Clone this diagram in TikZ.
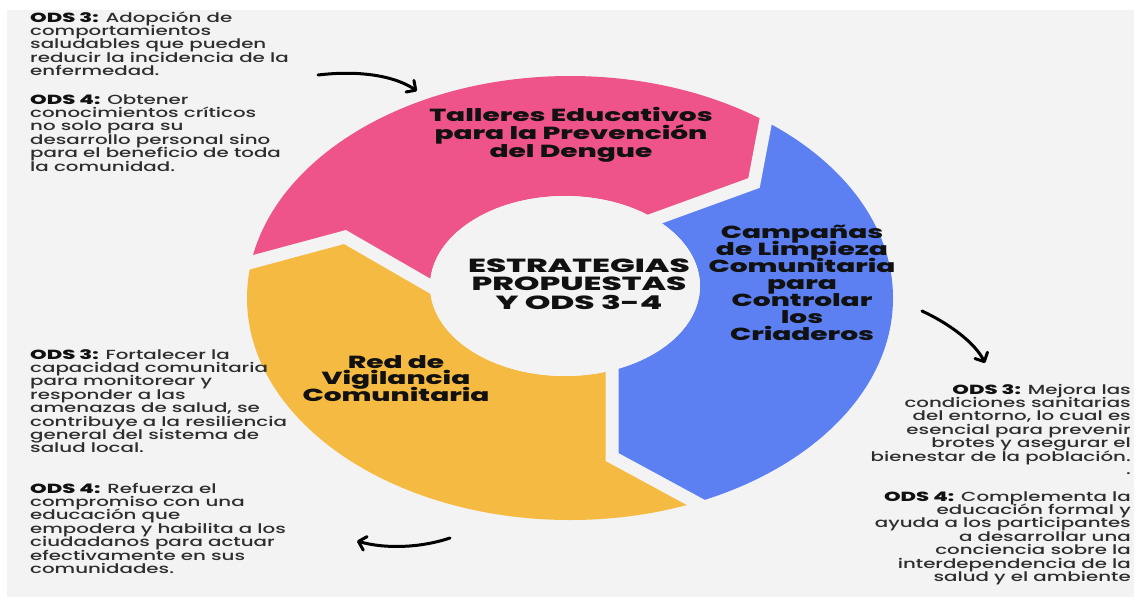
\documentclass[tikz,border=0pt]{standalone}
\usepackage{fontspec}
\setmainfont{Poppins Medium}[FakeStretch=1.50]
\newfontfamily\headfont{Poppins ExtraBold}[FakeStretch=1.6]
\newfontfamily\centerfont{Poppins ExtraBold}[FakeStretch=1.72]
\usetikzlibrary{arrows.meta}
\definecolor{bgc}{HTML}{F3F3F3}
\definecolor{pinkc}{HTML}{EE5389}
\definecolor{bluec}{HTML}{5C80F2}
\definecolor{yellowc}{HTML}{F5BA41}
\definecolor{txtc}{HTML}{2E2E2E}
\definecolor{headc}{HTML}{111111}
\newcommand{\Lstack}[1]{\vtop{\lineskiplimit=-\maxdimen\lineskip=0pt\halign{##\hfil\cr#1\crcr}}}
\newcommand{\Cstack}[1]{\vtop{\lineskiplimit=-\maxdimen\lineskip=0pt\halign{\hfil##\hfil\cr#1\crcr}}}
\newcommand{\Rstack}[1]{\vtop{\lineskiplimit=-\maxdimen\lineskip=0pt\halign{\hfil##\cr#1\crcr}}}
\tikzset{
  body/.style={inner sep=0pt, text=txtc, font=\fontsize{13.2}{13.4}\selectfont},
  ringlabel/.style={inner sep=0pt, text=headc, font=\headfont\fontsize{17.5}{#1}\selectfont},
  centerlabel/.style={inner sep=0pt, text=headc, font=\centerfont\fontsize{19}{18.5}\selectfont},
  gapline/.style={draw=bgc, line width=13pt, line join=miter},
  curvedarrow/.style={draw=black, line width=3pt, line cap=round, line join=round,
    -{Straight Barb[length=7pt,width=14pt,line cap=round,line join=round]}},
}
\newcommand{\odsb}[1]{{\headfont\fontsize{13.2}{13.4}\selectfont\color{headc}#1}}
\begin{document}
\begin{tikzpicture}[x=1pt,y=-1pt]
\useasboundingbox (0,0) rectangle (1139,603);
\fill[white] (0,0) rectangle (1139,603);
\fill[bgc] (7,10) rectangle (1134,597);

% key points
\coordinate (C) at (565,286);
\coordinate (Lin) at (475,312);
\coordinate (Lk) at (345,237);
\coordinate (Lout) at (-31,337);
\coordinate (Lg) at (230,268);
\coordinate (TRin) at (600,239);
\coordinate (TRk) at (754,183);
\coordinate (TRout) at (790,-10);
\coordinate (TRg) at (772,88);
\coordinate (Bin) at (612,340);
\coordinate (Bk) at (612,457);
\coordinate (Bout) at (928,629);
\coordinate (Bg) at (719,515);

% pink segment
\begin{scope}
\clip (C) -- (Lin) -- (Lk) -- (Lout) -- (-31,-20) -- (TRout) -- (TRk) -- (TRin) -- cycle;
\fill[pinkc, even odd rule] (570,298) ellipse[x radius=323, y radius=222]
  (565,286) ellipse[x radius=135, y radius=90];
\end{scope}
% blue segment
\begin{scope}
\clip (C) -- (TRin) -- (TRk) -- (TRout) -- (1139,-10) -- (1139,700) -- (Bout) -- (Bk) -- (Bin) -- cycle;
\fill[bluec, even odd rule] (570,298) ellipse[x radius=323, y radius=222]
  (565,286) ellipse[x radius=135, y radius=90];
\end{scope}
% yellow segment
\begin{scope}
\clip (C) -- (Bin) -- (Bk) -- (Bout) -- (-31,700) -- (Lout) -- (Lk) -- (Lin) -- cycle;
\fill[yellowc, even odd rule] (570,298) ellipse[x radius=323, y radius=222]
  (565,286) ellipse[x radius=135, y radius=90];
\end{scope}
% gaps
\draw[gapline] (Lin) -- (Lk) -- (Lg);
\draw[gapline] (TRin) -- (TRk) -- (TRg);
\draw[gapline] (Bin) -- (Bk) -- (Bg);
\fill[bgc] (565,286) ellipse[x radius=135, y radius=90];

% ring labels
\node[ringlabel=18, anchor=base] (talleres) at (571,121)
  {\Cstack{Talleres Educativos\cr para la Prevención\cr del Dengue}};
\node[ringlabel=17, anchor=base] (campanas) at (802,238)
  {\Cstack{Campañas\cr de Limpieza\cr Comunitaria\cr para\cr Controlar\cr los\cr Criaderos}};
\node[ringlabel=16.5, anchor=base] (red) at (396,368)
  {\Cstack{Red de\cr Vigilancia\cr Comunitaria}};
\node[centerlabel, anchor=base] (centro) at (579,272)
  {\Cstack{ESTRATEGIAS\cr PROPUESTAS\cr Y ODS 3-4}};

% text blocks
\node[body, anchor=base west] (tl3) at (30,22)
  {\Lstack{\odsb{ODS 3:} Adopción de\cr comportamientos\cr saludables que pueden\cr reducir la incidencia de la\cr enfermedad.}};
\node[body, anchor=base west] (tl4) at (30,104)
  {\Lstack{\odsb{ODS 4:} Obtener\cr conocimientos críticos\cr no solo para su\cr desarrollo personal sino\cr para el beneficio de toda\cr la comunidad.}};
\node[body, anchor=base west] (bl3) at (30,359)
  {\Lstack{\odsb{ODS 3:} Fortalecer la\cr capacidad comunitaria\cr para monitorear y\cr responder a las\cr amenazas de salud, se\cr contribuye a la resiliencia\cr general del sistema de\cr salud local.}};
\node[body, anchor=base west] (bl4) at (30,493)
  {\Lstack{\odsb{ODS 4:} Refuerza el\cr compromiso con una\cr educación que\cr empodera y habilita a los\cr ciudadanos para actuar\cr efectivamente en sus\cr comunidades.}};
\node[body, anchor=base east] (r3) at (1131,394)
  {\Rstack{\odsb{ODS 3:} Mejora las\cr condiciones sanitarias\cr del entorno, lo cual es\cr esencial para prevenir\cr brotes y asegurar el\cr bienestar de la población.\cr .}};
\node[body, anchor=base east] (r4) at (1131,501)
  {\Rstack{\odsb{ODS 4:} Complementa la\cr educación formal y\cr ayuda a los participantes\cr a desarrollar una\cr conciencia sobre la\cr interdependencia de la\cr salud y el ambiente}};

% arrows
\coordinate (a1s) at (318,75);
\coordinate (a1e) at (417,91);
\coordinate (a2s) at (922,311);
\coordinate (a2e) at (985,363);
\coordinate (a3s) at (450,538);
\coordinate (a3e) at (357,541);
\draw[curvedarrow] (a1s) .. controls (360,70) and (395,76) .. (a1e);
\draw[curvedarrow] (a2s) .. controls (950,324) and (975,343) .. (a2e);
\draw[curvedarrow] (a3s) .. controls (420,548) and (385,549) .. (a3e);
\end{tikzpicture}
\end{document}
